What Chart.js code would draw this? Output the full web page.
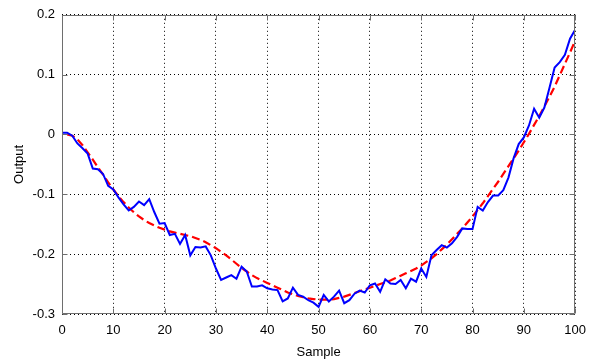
<!DOCTYPE html>
<html>
<head>
<meta charset="utf-8">
<script src="https://cdn.jsdelivr.net/npm/chart.js@4"></script>
<style>
  html, body { margin: 0; padding: 0; background: #fff; }
  #c { display: block; }
</style>
</head>
<body>
<canvas id="c" width="595" height="360"></canvas>
<script>
// ---- data ----
const samples = [0,1,2,3,4,5,6,7,8,9,10,11,12,13,14,15,16,17,18,19,20,
  21,22,23,24,25,26,27,28,29,30,31,32,33,34,35,36,37,38,39,40,
  41,42,43,44,45,46,47,48,49,50,51,52,53,54,55,56,57,58,59,60,
  61,62,63,64,65,66,67,68,69,70,71,72,73,74,75,76,77,78,79,80,
  81,82,83,84,85,86,87,88,89,90,91,92,93,94,95,96,97,98,99,100];

const measured = [0.003,0.003,-0.002,-0.015,-0.023,-0.032,-0.057,-0.058,-0.066,-0.086,-0.092,
  -0.105,-0.117,-0.127,-0.121,-0.112,-0.118,-0.108,-0.130,-0.149,-0.148,
  -0.168,-0.166,-0.183,-0.168,-0.202,-0.188,-0.189,-0.187,-0.202,-0.224,
  -0.243,-0.239,-0.235,-0.241,-0.221,-0.229,-0.254,-0.254,-0.252,-0.257,
  -0.259,-0.260,-0.279,-0.274,-0.256,-0.268,-0.271,-0.277,-0.281,-0.288,
  -0.268,-0.279,-0.271,-0.261,-0.282,-0.277,-0.266,-0.261,-0.264,-0.252,
  -0.249,-0.263,-0.242,-0.249,-0.250,-0.243,-0.257,-0.241,-0.246,-0.224,
  -0.238,-0.202,-0.193,-0.185,-0.189,-0.182,-0.171,-0.157,-0.158,-0.158,
  -0.121,-0.127,-0.113,-0.102,-0.102,-0.093,-0.072,-0.040,-0.016,-0.005,
  0.015,0.043,0.028,0.045,0.078,0.112,0.121,0.133,0.160,0.175];

const model = [null,0.000,-0.002,-0.008,-0.018,-0.030,-0.042,-0.055,-0.067,-0.080,-0.092,
  -0.103,-0.113,-0.122,-0.130,-0.137,-0.143,-0.148,-0.152,-0.156,-0.159,
  -0.162,-0.164,-0.166,-0.168,-0.170,-0.173,-0.176,-0.180,-0.185,-0.190,
  -0.196,-0.202,-0.209,-0.216,-0.223,-0.229,-0.235,-0.240,-0.244,-0.248,
  -0.252,-0.256,-0.260,-0.264,-0.267,-0.270,-0.272,-0.274,-0.275,-0.276,
  -0.276,-0.276,-0.275,-0.273,-0.271,-0.268,-0.265,-0.262,-0.259,-0.256,
  -0.253,-0.250,-0.247,-0.244,-0.240,-0.236,-0.232,-0.228,-0.224,-0.219,
  -0.213,-0.207,-0.200,-0.192,-0.184,-0.175,-0.166,-0.157,-0.147,-0.137,
  -0.126,-0.115,-0.103,-0.091,-0.079,-0.066,-0.053,-0.040,-0.027,-0.013,
  0.001,0.016,0.031,0.047,0.063,0.080,0.099,0.118,0.137,0.157];

const xTicks = [0,10,20,30,40,50,60,70,80,90,100];
const yTicks = [-0.3,-0.2,-0.1,0,0.1,0.2];
const xTitle = 'Sample';
const yTitle = 'Output';

// ---- chart ----
const FONT = "'Liberation Sans', Arial, sans-serif";

const boxPlugin = {
  id: 'matlabBox',
  afterDatasetsDraw(chart) {
    const {ctx, chartArea: a, scales} = chart;
    ctx.save();
    ctx.strokeStyle = '#6e6e6e';
    ctx.lineWidth = 1;
    ctx.setLineDash([]);
    const L = Math.round(a.left) + 0.5, R = Math.round(a.right) - 0.5;
    const T = Math.round(a.top) + 0.5, B = Math.round(a.bottom) - 0.5;
    ctx.beginPath();
    ctx.rect(L, T, R - L, B - T);
    ctx.stroke();
    const len = 5;
    ctx.beginPath();
    xTicks.forEach(v => {
      const px = Math.round(scales.x.getPixelForValue(v)) + 0.5;
      ctx.moveTo(px, B); ctx.lineTo(px, B - len);
      ctx.moveTo(px, T); ctx.lineTo(px, T + len);
    });
    yTicks.forEach(v => {
      const py = Math.round(scales.y.getPixelForValue(v)) + 0.5;
      ctx.moveTo(L, py); ctx.lineTo(L + len, py);
      ctx.moveTo(R, py); ctx.lineTo(R - len, py);
    });
    ctx.stroke();
    ctx.restore();
  }
};

new Chart(document.getElementById('c'), {
  type: 'line',
  data: {
    datasets: [
      {
        label: 'measured',
        data: measured.map((v, i) => ({x: samples[i], y: v})),
        borderColor: '#0000ff',
        borderWidth: 2,
        pointRadius: 0,
        tension: 0,
        fill: false
      },
      {
        label: 'model',
        data: model.map((v, i) => ({x: samples[i], y: v})),
        borderColor: '#ff0000',
        borderWidth: 2.2,
        borderDash: [8, 4],
        pointRadius: 0,
        tension: 0,
        fill: false,
        spanGaps: true
      }
    ]
  },
  options: {
    responsive: false,
    animation: false,
    devicePixelRatio: 1,
    layout: { padding: { left: 0, right: 18, top: 14, bottom: 0 } },
    plugins: { legend: { display: false }, tooltip: { enabled: false } },
    scales: {
      x: {
        type: 'linear',
        min: 0, max: 100,
        afterBuildTicks: s => { s.ticks = xTicks.map(v => ({value: v})); },
        afterFit: s => { s.height = 46; },
        ticks: { color: '#000', font: { family: FONT, size: 13 }, padding: 9, maxRotation: 0,
                 callback: v => String(v) },
        grid: { color: '#000', lineWidth: 1, drawTicks: false },
        border: { display: false, dash: [1, 3] },
        title: { display: true, text: xTitle, color: '#000', font: { family: FONT, size: 13 },
                 padding: { top: 0, bottom: 0 } }
      },
      y: {
        type: 'linear',
        min: -0.3, max: 0.2,
        afterBuildTicks: s => { s.ticks = yTicks.map(v => ({value: v})); },
        afterFit: s => { s.width = 62; },
        ticks: { color: '#000', font: { family: FONT, size: 13 }, padding: 7,
                 callback: v => String(Math.round(v * 10) / 10) },
        grid: { color: '#000', lineWidth: 1, drawTicks: false },
        border: { display: false, dash: [1, 3] },
        title: { display: true, text: yTitle, color: '#000', font: { family: FONT, size: 13 },
                 padding: { top: 12, bottom: 0 } }
      }
    }
  },
  plugins: [boxPlugin]
});
</script>
</body>
</html>
